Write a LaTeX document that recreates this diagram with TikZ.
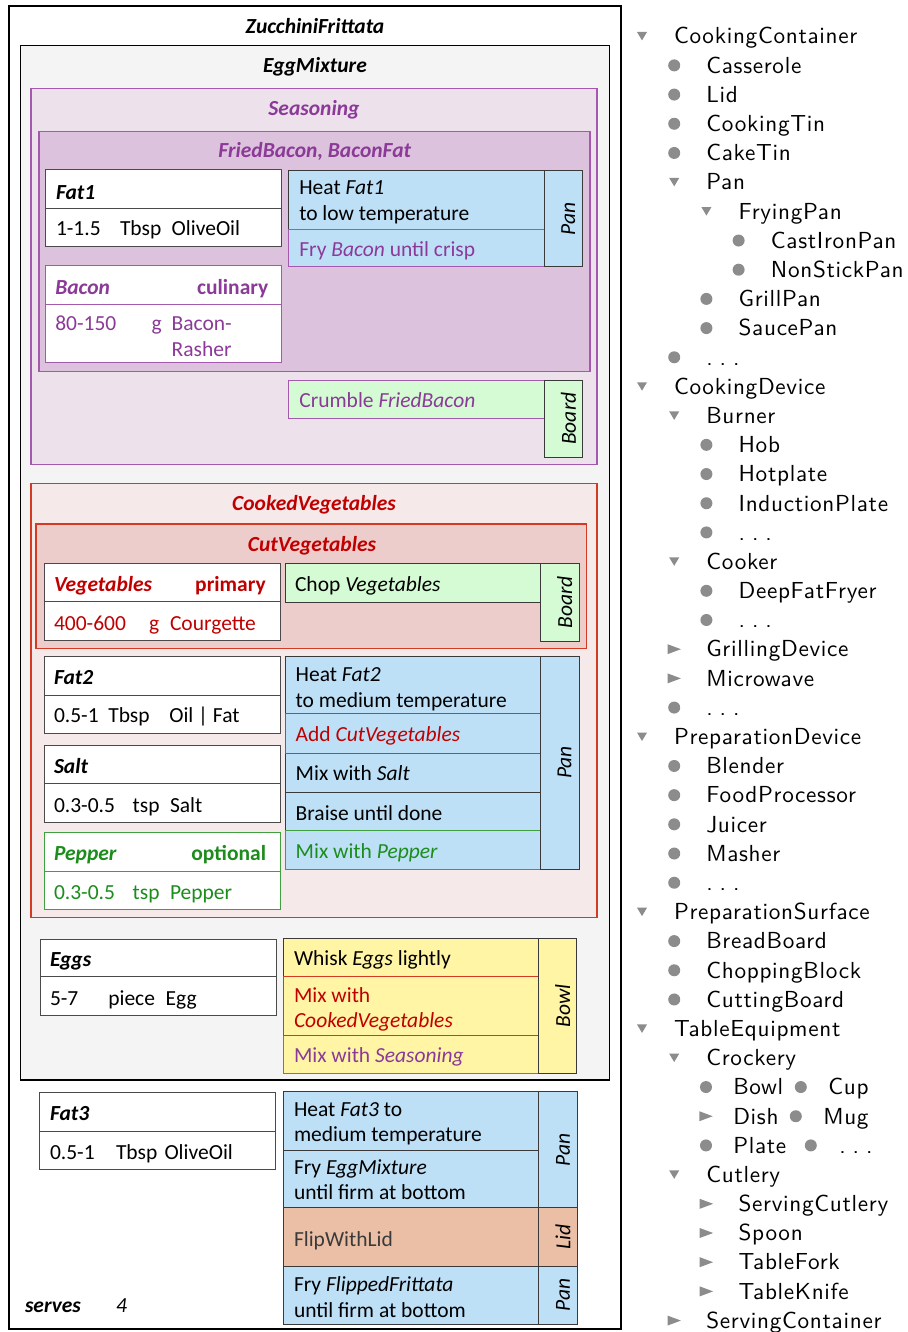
\documentclass[tikz,border=0pt]{standalone}
\usepackage{fontspec}
\setmainfont{Carlito}
\newfontfamily\treefont{lmsans10-regular}[Extension=.otf,LetterSpace=3]
\usetikzlibrary{calc}
\definecolor{purp}{HTML}{8B3A98}
\definecolor{purpb}{HTML}{A458AE}
\definecolor{seasfill}{HTML}{EDE1EC}
\definecolor{fbfill}{HTML}{DDC2DD}
\definecolor{redt}{HTML}{C00000}
\definecolor{redb}{HTML}{D23A22}
\definecolor{cvfill}{HTML}{F5E9E9}
\definecolor{cutfill}{HTML}{EDCDCC}
\definecolor{grnt}{HTML}{1C8C1C}
\definecolor{grnb}{HTML}{40A040}
\definecolor{stepblue}{HTML}{BDE0F7}
\definecolor{stepgreen}{HTML}{D5FBD5}
\definecolor{stepyellow}{HTML}{FFF5A5}
\definecolor{stepsalmon}{HTML}{EBBFA5}
\definecolor{eggfill}{HTML}{F4F4F4}
\definecolor{darkb}{HTML}{3A3A3A}
\definecolor{ingb}{HTML}{4A4A4A}
\definecolor{treeg}{HTML}{8C8C8C}
\newcommand\lf{\fontsize{21.5}{25.5}\selectfont}
\newcommand\dd{.\hspace{0.3em}.\hspace{0.3em}.}
\newcommand\bx[6]{\node[#2,anchor=north west,minimum width={#5-#3},minimum height={#6-#4}] (#1) at (#3,#4) {};}
\newcommand\tx[5]{\node[lbl,#2] (#1) at (#3,#4) {#5};}
\newcommand\two[2]{\parbox[t]{250pt}{#1\\#2}}
\newcommand\ing[7]{\bx{#1}{ingbx,draw=#2}{#3}{#4}{#5}{#6}\draw[draw=#2,line width=0.9pt] (#3,#7) -- (#5,#7);}
\begin{document}
\begin{tikzpicture}[x=1pt,y=-1pt,
  every node/.style={inner sep=0pt,outer sep=0pt},
  lbl/.style={anchor=base west,font=\lf},
  ttl/.style={anchor=base,font=\lf\bfseries\itshape},
  region/.style={line width=1.4pt},
  ingbx/.style={fill=white,line width=0.9pt},
  stepbx/.style={line width=0.8pt},
  colbx/.style={draw=darkb,line width=0.8pt},
  collbl/.style={rotate=90,font=\lf\itshape},
  ingname/.style={lbl,font=\lf\bfseries\itshape},
  treetxt/.style={anchor=base west,font={\treefont\fontsize{23.2}{27}\selectfont}}]
\useasboundingbox (0,0) rectangle (907,1332);
\fill[white] (0,0) rectangle (907,1332);

% ---------- regions ----------
\bx{frit}{region,draw=black,fill=white}{9}{6}{621}{1329}
\node[ttl] (frit-t) at (315,33.3) {ZucchiniFrittata};
\bx{egg}{region,draw=black,fill=eggfill}{20.7}{45.7}{609.5}{1080}
\node[ttl] (egg-t) at (315,72.5) {EggMixture};
\bx{seas}{region,draw=purpb,fill=seasfill}{31}{88.3}{597}{464.3}
\node[ttl,text=purp] (seas-t) at (314,116) {Seasoning};
\bx{fb}{region,draw=purpb,fill=fbfill}{39}{131.7}{590}{371.7}
\node[ttl,text=purp] (fb-t) at (314.7,157.3) {FriedBacon, BaconFat};
\bx{cv}{region,draw=redb,fill=cvfill}{31}{483.3}{597}{917.7}
\node[ttl,text=redt] (cv-t) at (314,510) {CookedVegetables};
\bx{cut}{region,draw=redb,fill=cutfill}{36}{524}{586.7}{648.3}
\node[ttl,text=redt] (cut-t) at (312,551) {CutVegetables};

% ---------- ingredients ----------
\ing{fat1}{ingb}{45.3}{169.3}{281.7}{246.7}{208.3}
\tx{fat1-n}{ingname}{56}{199.3}{Fat1}
\tx{fat1-q}{}{56}{236}{1-1.5}
\tx{fat1-u}{}{120}{236}{Tbsp}
\tx{fat1-i}{}{171.7}{236}{OliveOil}

\ing{bacon}{purpb}{45.3}{265.7}{281.7}{362.3}{304}
\tx{bacon-n}{ingname,text=purp}{55.3}{294.3}{Bacon}
\node[anchor=base east,font=\lf\bfseries,text=purp] (bacon-k) at (268.3,294.3) {culinary};
\tx{bacon-q}{text=purp}{55.3}{330}{80-150}
\tx{bacon-u}{text=purp}{151.7}{330}{g}
\tx{bacon-i}{text=purp}{171.7}{330}{Bacon-}
\tx{bacon-i2}{text=purp}{171.7}{356}{Rasher}

\ing{veg}{ingb}{44}{563.3}{280}{640}{601.7}
\tx{veg-n}{ingname,text=redt}{54}{591}{Vegetables}
\node[anchor=base east,font=\lf\bfseries,text=redt] (veg-k) at (265.7,591) {primary};
\tx{veg-q}{text=redt}{54}{630}{400-600}
\tx{veg-u}{text=redt}{149}{630}{g}
\tx{veg-i}{text=redt}{170}{630}{Courgette}

\ing{fat2}{ingb}{44}{656}{280}{733.3}{695}
\tx{fat2-n}{ingname}{54}{684.3}{Fat2}
\tx{fat2-q}{}{54}{722.7}{0.5-1}
\tx{fat2-u}{}{108.3}{722.7}{Tbsp}
\tx{fat2-i}{}{169.3}{722.7}{Oil | Fat}

\ing{salt}{ingb}{44}{745}{280}{822.3}{783.3}
\tx{salt-n}{ingname}{54}{773.3}{Salt}
\tx{salt-q}{}{54}{812.3}{0.3-0.5}
\tx{salt-u}{}{132.7}{812.3}{tsp}
\tx{salt-i}{}{170}{812.3}{Salt}

\ing{pep}{grnb}{44}{832.7}{280}{909.3}{871}
\tx{pep-n}{ingname,text=grnt}{54}{860.7}{Pepper}
\node[anchor=base east,font=\lf\bfseries,text=grnt] (pep-k) at (266,860.7) {optional};
\tx{pep-q}{text=grnt}{54}{899}{0.3-0.5}
\tx{pep-u}{text=grnt}{132.7}{899}{tsp}
\tx{pep-i}{text=grnt}{170}{899}{Pepper}

\ing{eggs}{ingb}{40}{939}{276}{1015}{976.7}
\tx{eggs-n}{ingname}{50}{966}{Eggs}
\tx{eggs-q}{}{50}{1005}{5-7}
\tx{eggs-u}{}{108.3}{1005}{piece}
\tx{eggs-i}{}{165.7}{1005}{Egg}

\ing{fat3}{ingb}{39}{1092.3}{275.3}{1169.3}{1131}
\tx{fat3-n}{ingname}{50}{1120.5}{Fat3}
\tx{fat3-q}{}{50}{1159.3}{0.5-1}
\tx{fat3-u}{}{116}{1159.3}{Tbsp}
\tx{fat3-i}{}{164.5}{1159.3}{OliveOil}

% ---------- steps: FriedBacon ----------
\bx{s1}{stepbx,fill=stepblue,draw=darkb}{288.3}{170.7}{544.3}{229}
\bx{s2}{stepbx,fill=stepblue,draw=purpb}{288.3}{229}{544.3}{266.7}
\bx{c1}{colbx,fill=stepblue}{544.3}{170.7}{582.3}{266.7}
\node[collbl] (c1-t) at ([xshift=5pt]c1.center) {Pan};
\tx{s1-t}{}{299.3}{195}{\two{Heat \textit{Fat1}}{to low temperature}}
\tx{s2-t}{text=purp}{299.3}{256.7}{Fry \textit{Bacon} until crisp}

% ---------- steps: Seasoning ----------
\bx{s3}{stepbx,fill=stepgreen,draw=purpb}{288.3}{380}{544.3}{418.3}
\bx{c2}{colbx,fill=stepgreen}{544.3}{380}{582.7}{457.3}
\node[collbl] (c2-t) at ([xshift=5pt]c2.center) {Board};
\tx{s3-t}{text=purp}{299.3}{407.7}{Crumble \textit{FriedBacon}}

% ---------- steps: CutVegetables ----------
\bx{s4}{stepbx,fill=stepgreen,draw=darkb}{285}{563.3}{540.7}{602.3}
\bx{c3}{colbx,fill=stepgreen}{540.7}{563.3}{579}{641}
\node[collbl] (c3-t) at ([xshift=5pt]c3.center) {Board};
\tx{s4-t}{}{295}{591.7}{Chop \textit{Vegetables}}

% ---------- steps: CookedVegetables ----------
\bx{s5}{stepbx,fill=stepblue,draw=darkb}{285}{656}{540}{713.3}
\bx{s7}{stepbx,fill=stepblue,draw=darkb}{285}{753.3}{540}{792.3}
\bx{s8}{stepbx,fill=stepblue,draw=darkb}{285}{792.3}{540}{830.7}
\bx{s9}{stepbx,fill=stepblue,draw=grnb}{285}{830.7}{540}{869}
\bx{s6}{stepbx,fill=stepblue,draw=redb}{285}{713.3}{540}{753.3}
\bx{c4}{colbx,fill=stepblue}{540}{656}{579.3}{869}
\node[collbl] (c4-t) at ([xshift=5pt]c4.center) {Pan};
\tx{s5-t}{}{295.7}{681.7}{\two{Heat \textit{Fat2}}{to medium temperature}}
\tx{s6-t}{text=redt}{295.7}{741.7}{Add \textit{CutVegetables}}
\tx{s7-t}{}{295.7}{780.7}{Mix with \textit{Salt}}
\tx{s8-t}{}{295.7}{820}{Braise until done}
\tx{s9-t}{text=grnt}{295.7}{858.7}{Mix with \textit{Pepper}}

% ---------- steps: EggMixture ----------
\bx{s10}{stepbx,fill=stepyellow,draw=darkb}{283.3}{938.3}{538.7}{976.7}
\bx{s12}{stepbx,fill=stepyellow,draw=purpb}{283.3}{1035}{538.7}{1073.3}
\bx{s11}{stepbx,fill=stepyellow,draw=redb}{283.3}{976.7}{538.7}{1035}
\bx{c5}{colbx,fill=stepyellow}{538.7}{938.3}{576.7}{1073.3}
\node[collbl] (c5-t) at ([xshift=5pt]c5.center) {Bowl};
\tx{s10-t}{}{294}{965.7}{Whisk \textit{Eggs} lightly}
\tx{s11-t}{text=redt}{294}{1002.3}{\two{Mix with}{\textit{CookedVegetables}}}
\tx{s12-t}{text=purp}{294}{1062.7}{Mix with \textit{Seasoning}}

% ---------- steps: ZucchiniFrittata ----------
\bx{s13}{stepbx,fill=stepblue,draw=darkb}{283.3}{1091.7}{538.7}{1150}
\bx{s14}{stepbx,fill=stepblue,draw=darkb}{283.3}{1150}{538.7}{1207.7}
\bx{s15}{stepbx,fill=stepsalmon,draw=darkb}{283.3}{1207.7}{538.7}{1266}
\bx{s16}{stepbx,fill=stepblue,draw=darkb}{283.3}{1266}{538.7}{1324.3}
\bx{c6}{colbx,fill=stepblue}{538.7}{1091.7}{577.3}{1207.7}
\bx{c7}{colbx,fill=stepsalmon}{538.7}{1207.7}{577.3}{1266}
\bx{c8}{colbx,fill=stepblue}{538.7}{1266}{577.3}{1324.3}
\node[collbl] (c6-t) at ([xshift=5pt]c6.center) {Pan};
\node[collbl] (c7-t) at ([xshift=5pt]c7.center) {Lid};
\node[collbl] (c8-t) at ([xshift=5pt]c8.center) {Pan};
\tx{s13-t}{}{294}{1116}{\two{Heat \textit{Fat3} to}{medium temperature}}
\tx{s14-t}{}{294}{1174}{\two{Fry \textit{EggMixture}}{until firm at bottom}}
\tx{s15-t}{text=darkb}{294}{1246}{FlipWithLid}
\tx{s16-t}{}{294}{1291.7}{\two{Fry \textit{FlippedFrittata}}{until firm at bottom}}

\tx{serves}{font=\lf\bfseries\itshape}{25}{1312}{serves}
\tx{serves-n}{font=\lf\itshape}{116}{1312}{4}

% ---------- equipment tree ----------
\foreach \r/\lv/\mk/\txt in {
 0/0/0/CookingContainer, 1/1/1/Casserole, 2/1/1/Lid, 3/1/1/CookingTin, 4/1/1/CakeTin,
 5/1/0/Pan, 6/2/0/FryingPan, 7/3/1/CastIronPan, 8/3/1/NonStickPan, 9/2/1/GrillPan,
 10/2/1/SaucePan, 11/1/1/\dd, 12/0/0/CookingDevice, 13/1/0/Burner, 14/2/1/Hob,
 15/2/1/Hotplate, 16/2/1/InductionPlate, 17/2/1/\dd, 18/1/0/Cooker, 19/2/1/DeepFatFryer,
 20/2/1/\dd, 21/1/2/GrillingDevice, 22/1/2/Microwave, 23/1/1/\dd, 24/0/0/PreparationDevice,
 25/1/1/Blender, 26/1/1/FoodProcessor, 27/1/1/Juicer, 28/1/1/Masher, 29/1/1/\dd,
 30/0/0/PreparationSurface, 31/1/1/BreadBoard, 32/1/1/ChoppingBlock, 33/1/1/CuttingBoard,
 34/0/0/TableEquipment, 35/1/0/Crockery, 39/1/0/Cutlery, 40/2/2/ServingCutlery,
 41/2/2/Spoon, 42/2/2/TableFork, 43/2/2/TableKnife, 44/1/2/ServingContainer} {
  \pgfmathsetmacro\yb{44+29.19*\r}
  \pgfmathsetmacro\yc{\yb-7.8}
  \pgfmathsetmacro\xt{674+32.3*\lv}
  \pgfmathsetmacro\xm{642+32.2*\lv}
  \node[treetxt] (tree\r) at (\xt,\yb) {\txt};
  \ifcase\mk
    \fill[treeg] ({\xm-5},{\yc-4.2}) -- ({\xm+5},{\yc-4.2}) -- (\xm,{\yc+4.2}) -- cycle;
  \or
    \fill[treeg] (\xm,\yc) circle[radius=6];
  \or
    \fill[treeg] ({\xm-6.7},{\yc-5}) -- ({\xm+6.7},\yc) -- ({\xm-6.7},{\yc+5}) -- cycle;
  \fi
}
% crockery rows
\pgfmathsetmacro\ya{44+29.19*36}
\pgfmathsetmacro\yB{44+29.19*37}
\pgfmathsetmacro\yC{44+29.19*38}
\node[treetxt] (tree36a) at (733.3,\ya) {Bowl};
\node[treetxt] (tree36b) at (828.3,\ya) {Cup};
\node[treetxt] (tree37a) at (733.3,\yB) {Dish};
\node[treetxt] (tree37b) at (823.3,\yB) {Mug};
\node[treetxt] (tree38a) at (733.3,\yC) {Plate};
\node[treetxt] (tree38b) at (839.3,\yC) {\dd};
\fill[treeg] (706,{\ya-7.8}) circle[radius=6];
\fill[treeg] (800.8,{\ya-7.8}) circle[radius=6];
\fill[treeg] (699.3,{\yB-12.8}) -- (712.7,{\yB-7.8}) -- (699.3,{\yB-2.8}) -- cycle;
\fill[treeg] (795.8,{\yB-7.8}) circle[radius=6];
\fill[treeg] (706,{\yC-7.8}) circle[radius=6];
\fill[treeg] (810.8,{\yC-7.8}) circle[radius=6];
\end{tikzpicture}
\end{document}
